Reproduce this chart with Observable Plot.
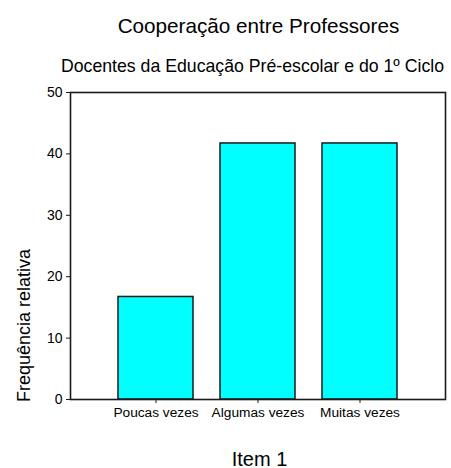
<!DOCTYPE html>
<html>
<head>
<meta charset="utf-8">
<script src="https://cdn.jsdelivr.net/npm/d3@7"></script>
<script src="https://cdn.jsdelivr.net/npm/@observablehq/plot@0.6"></script>
<style>
  html, body { margin: 0; padding: 0; background: #fff; }
  #chart svg { display: block; }
</style>
</head>
<body>
<div id="chart"></div>
<script>
const categories = ["Poucas vezes", "Algumas vezes", "Muitas vezes"];
const values = [16.7, 41.7, 41.7];
const yTicks = [0, 10, 20, 30, 40, 50];
const titleText = "Cooperação entre Professores";
const subtitleText = "Docentes da Educação Pré-escolar e do 1º Ciclo";
const yLabel = "Frequência relativa";
const xLabel = "Item 1";

const data = categories.map((c, i) => ({cat: c, val: values[i]}));
const font = "'Liberation Sans', Arial, Helvetica, sans-serif";

const chart = Plot.plot({
  width: 451,
  height: 468,
  marginTop: 92,
  marginBottom: 69,
  marginLeft: 70,
  marginRight: 6,
  style: {fontFamily: font, fontSize: "14px", color: "#000", background: "#fff"},
  x: {domain: categories, paddingInner: 0.26, paddingOuter: 0.46, label: null},
  y: {domain: [0, 50], label: null},
  marks: [
    Plot.barY(data, {x: "cat", y: "val", fill: "#00ffff", stroke: "#1a1a1a", strokeWidth: 1.5}),
    Plot.frame({stroke: "#1a1a1a", strokeWidth: 1.6}),
    Plot.axisX({tickSize: 4, tickPadding: 4, fontSize: 13.7, label: null, stroke: "#1a1a1a"}),
    Plot.axisY({ticks: yTicks, tickSize: 4, tickPadding: 4, fontSize: 14, label: null, stroke: "#1a1a1a"}),
    Plot.text([titleText], {text: d => d, frameAnchor: "top", textAnchor: "middle", lineAnchor: "bottom", dx: 0.5, dy: -60, fontSize: 20.7, fill: "#000"}),
    Plot.text([subtitleText], {text: d => d, frameAnchor: "top", textAnchor: "middle", lineAnchor: "bottom", dx: -5.5, dy: -20.5, fontSize: 17.7, fill: "#000"}),
    Plot.text([xLabel], {text: d => d, frameAnchor: "bottom", textAnchor: "middle", lineAnchor: "bottom", dx: 1.5, dy: 66, fontSize: 20, fill: "#000"}),
    Plot.text([yLabel], {text: d => d, frameAnchor: "left", textAnchor: "middle", lineAnchor: "bottom", rotate: -90, dx: -40.5, dy: 79.5, fontSize: 18, fill: "#000"})
  ]
});
document.getElementById("chart").appendChild(chart);
</script>
</body>
</html>
